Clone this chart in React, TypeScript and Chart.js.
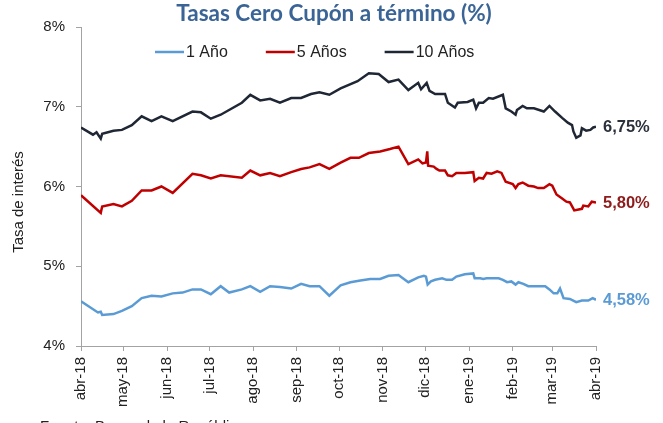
import React, { useEffect, useRef } from 'react';
import { Chart, registerables } from 'chart.js';

Chart.register(...registerables);

const chartTitle = 'Tasas Cero Cupón a término (%)';
const yAxisTitle = 'Tasa de interés';
const footerText = 'Fuente: Banco de la República';

// x positions are days counted from 1 abr 2018
const monthTickDays = [0, 30, 61, 91, 122, 153, 183, 214, 244, 275, 306, 334, 365];
const monthTickLabels = ['abr-18', 'may-18', 'jun-18', 'jul-18', 'ago-18', 'sep-18', 'oct-18', 'nov-18', 'dic-18', 'ene-19', 'feb-19', 'mar-19', 'abr-19'];
const yTickValues = [4, 5, 6, 7, 8];

const seriesNames = ['1 Año', '5 Años', '10 Años'];
const seriesColors = ['#5B9BD5', '#C00000', '#1F2735'];
const endLabels = ['4,58%', '5,80%', '6,75%'];
const endLabelColors = ['#5B9BD5', '#8E1C1C', '#2A303C'];

const oneYearDays = [0, 12, 14, 15, 23, 29, 36, 43, 50, 57, 65, 72, 79, 85, 92, 99, 105, 114, 120, 127, 134, 141, 149, 156, 162, 169, 176, 184, 191, 198, 205, 212, 218, 225, 232, 239, 243, 244.5, 245.7, 248, 251, 256, 259, 263, 266, 272, 278, 279, 283, 285, 287.5, 292, 296, 299, 302, 305, 308, 310, 313.5, 317, 323, 329, 332, 335, 337.6, 339.5, 342, 346.5, 351, 355, 359.5, 362.6, 365];
const oneYearRates = [4.56, 4.42, 4.43, 4.39, 4.40, 4.44, 4.50, 4.60, 4.63, 4.62, 4.66, 4.67, 4.71, 4.71, 4.65, 4.75, 4.67, 4.71, 4.75, 4.68, 4.75, 4.74, 4.72, 4.78, 4.75, 4.75, 4.63, 4.76, 4.80, 4.82, 4.84, 4.84, 4.88, 4.89, 4.80, 4.86, 4.88, 4.87, 4.77, 4.81, 4.83, 4.85, 4.83, 4.83, 4.87, 4.90, 4.91, 4.85, 4.85, 4.84, 4.85, 4.85, 4.85, 4.83, 4.80, 4.81, 4.77, 4.80, 4.78, 4.75, 4.75, 4.75, 4.71, 4.66, 4.66, 4.72, 4.60, 4.59, 4.55, 4.57, 4.57, 4.60, 4.58];

const fiveYearDays = [0, 14, 15, 23, 29, 36, 43, 50, 57, 65, 79, 85, 92, 99, 114, 120, 127, 134, 141, 149, 156, 162, 169, 176, 184, 191, 197, 204, 212, 219, 225, 232, 239, 242, 244.5, 245.4, 246, 250, 252, 254, 258, 260, 263, 266, 272, 278, 279, 282, 285, 287.5, 291, 295, 298, 301, 306, 308, 310, 313, 317, 321, 324, 328, 332, 334, 337, 341, 344, 346.5, 349.6, 355, 356, 359.5, 362, 365];
const fiveYearRates = [5.89, 5.67, 5.75, 5.78, 5.75, 5.82, 5.95, 5.95, 6.00, 5.92, 6.16, 6.14, 6.10, 6.14, 6.11, 6.20, 6.14, 6.17, 6.13, 6.18, 6.22, 6.24, 6.28, 6.22, 6.30, 6.36, 6.36, 6.42, 6.44, 6.47, 6.50, 6.28, 6.34, 6.29, 6.30, 6.44, 6.26, 6.25, 6.22, 6.20, 6.20, 6.14, 6.13, 6.17, 6.17, 6.18, 6.07, 6.11, 6.10, 6.17, 6.16, 6.19, 6.17, 6.06, 6.03, 5.98, 6.03, 6.05, 6.01, 6.00, 5.98, 5.98, 6.03, 6.01, 5.90, 5.85, 5.81, 5.80, 5.70, 5.72, 5.76, 5.75, 5.81, 5.80];

const tenYearDays = [0, 8.5, 11, 14, 15, 23, 29, 36, 43, 50, 57, 65, 79, 85, 92, 99, 114, 120, 127, 134, 141, 149, 156, 163, 169, 176, 184, 196, 204, 211, 218, 225, 232, 239, 241, 245, 247, 251, 258, 260, 265, 267, 274, 278, 280, 282, 285, 289, 292, 299, 301, 305, 308, 309, 313, 316, 321, 328, 332, 336, 341, 345, 348, 349, 351, 354, 355, 358, 361, 363, 365];
const tenYearRates = [6.74, 6.65, 6.68, 6.60, 6.66, 6.70, 6.71, 6.77, 6.88, 6.82, 6.88, 6.82, 6.94, 6.93, 6.85, 6.90, 7.05, 7.15, 7.08, 7.10, 7.05, 7.11, 7.11, 7.16, 7.18, 7.15, 7.23, 7.32, 7.42, 7.41, 7.31, 7.34, 7.21, 7.30, 7.22, 7.30, 7.20, 7.16, 7.16, 7.05, 6.99, 7.05, 7.06, 7.09, 6.98, 7.05, 7.05, 7.11, 7.10, 7.15, 6.98, 6.94, 6.90, 6.96, 7.01, 6.98, 6.98, 6.94, 7.01, 6.94, 6.86, 6.80, 6.77, 6.69, 6.61, 6.64, 6.73, 6.70, 6.71, 6.74, 6.75];

const seriesDays = [oneYearDays, fiveYearDays, tenYearDays];
const seriesRates = [oneYearRates, fiveYearRates, tenYearRates];

const TEXT_COLOR = '#222222';
const AXIS_COLOR = '#A3A3A3';
const SANS = '"Liberation Sans", Arial, sans-serif';

const overlayPlugin = {
  id: 'overlay',
  afterDraw(chart: any) {
    const ctx = chart.ctx as CanvasRenderingContext2D;
    const area = chart.chartArea;
    ctx.save();

    // title
    ctx.font = 'bold 22.5px Lato, "Open Sans", sans-serif';
    ctx.fillStyle = '#3A6496';
    ctx.textAlign = 'center';
    ctx.textBaseline = 'middle';
    ctx.fillText(chartTitle, 334, 14);

    // legend inside plot
    ctx.font = '16px ' + SANS;
    ctx.textAlign = 'left';
    ctx.textBaseline = 'middle';
    let lx = 155;
    const ly = area.top + 25;
    chart.data.datasets.forEach((ds: any) => {
      ctx.strokeStyle = ds.borderColor;
      ctx.lineWidth = 2.5;
      ctx.beginPath();
      ctx.moveTo(lx, ly);
      ctx.lineTo(lx + 29, ly);
      ctx.stroke();
      ctx.fillStyle = TEXT_COLOR;
      ctx.fillText(ds.label, lx + 31, ly + 1);
      lx += 31 + ctx.measureText(ds.label).width + 38;
    });

    // end labels
    ctx.font = 'bold 16.5px ' + SANS;
    chart.data.datasets.forEach((_ds: any, i: number) => {
      const meta = chart.getDatasetMeta(i);
      const last = meta.data[meta.data.length - 1];
      ctx.fillStyle = endLabelColors[i];
      ctx.fillText(endLabels[i], last.x + 7, last.y + 1);
    });

    // footer (cut off by the frame)
    ctx.font = '15px ' + SANS;
    ctx.fillStyle = TEXT_COLOR;
    ctx.textBaseline = 'alphabetic';
    ctx.fillText(footerText, 40, 431);

    // y axis title
    ctx.translate(19, 202);
    ctx.rotate(-Math.PI / 2);
    ctx.textAlign = 'center';
    ctx.textBaseline = 'middle';
    ctx.font = '15px ' + SANS;
    ctx.fillStyle = TEXT_COLOR;
    ctx.fillText(yAxisTitle, 0, 0);

    ctx.restore();
  },
};

export default function App() {
  const canvasRef = useRef<HTMLCanvasElement | null>(null);

  useEffect(() => {
    if (!canvasRef.current) return;
    const datasets = seriesNames.map((name, i) => ({
      label: name,
      data: seriesDays[i].map((d, j) => ({ x: d, y: seriesRates[i][j] })),
      borderColor: seriesColors[i],
      backgroundColor: seriesColors[i],
      borderWidth: 2.5,
      pointRadius: 0,
      tension: 0,
      fill: false,
    }));

    const chart = new Chart(canvasRef.current, {
      type: 'line',
      data: { datasets },
      plugins: [overlayPlugin],
      options: {
        animation: false,
        responsive: true,
        maintainAspectRatio: false,
        layout: { padding: { top: 27, right: 67, left: 0, bottom: 0 } },
        plugins: {
          legend: { display: false },
          title: { display: false },
          tooltip: { enabled: false },
        },
        scales: {
          x: {
            type: 'linear',
            min: monthTickDays[0],
            max: monthTickDays[monthTickDays.length - 1],
            afterBuildTicks: (scale: any) => {
              scale.ticks = monthTickDays.map((v) => ({ value: v }));
            },
            afterFit: (scale: any) => {
              scale.height = 77;
            },
            ticks: {
              autoSkip: false,
              minRotation: 90,
              maxRotation: 90,
              padding: 6,
              color: TEXT_COLOR,
              font: { family: SANS, size: 15 },
              callback: (value: any) => {
                const idx = monthTickDays.indexOf(Number(value));
                return idx >= 0 ? monthTickLabels[idx] : '';
              },
            },
            grid: { drawOnChartArea: false, drawTicks: true, tickLength: 5, color: AXIS_COLOR },
            border: { display: true, color: AXIS_COLOR, width: 1 },
          },
          y: {
            type: 'linear',
            min: yTickValues[0],
            max: yTickValues[yTickValues.length - 1],
            afterBuildTicks: (scale: any) => {
              scale.ticks = yTickValues.map((v) => ({ value: v }));
            },
            afterFit: (scale: any) => {
              scale.width = 81;
            },
            ticks: {
              padding: 11,
              color: TEXT_COLOR,
              font: { family: SANS, size: 15 },
              callback: (value: any) => value + '%',
            },
            grid: { drawOnChartArea: false, drawTicks: true, tickLength: 5, color: AXIS_COLOR },
            border: { display: true, color: AXIS_COLOR, width: 1 },
          },
        },
      },
    } as any);

    return () => chart.destroy();
  }, []);

  return (
    <div style={{ position: 'fixed', top: 0, left: 0, width: 663, height: 423, background: '#ffffff' }}>
      <canvas ref={canvasRef} />
    </div>
  );
}
